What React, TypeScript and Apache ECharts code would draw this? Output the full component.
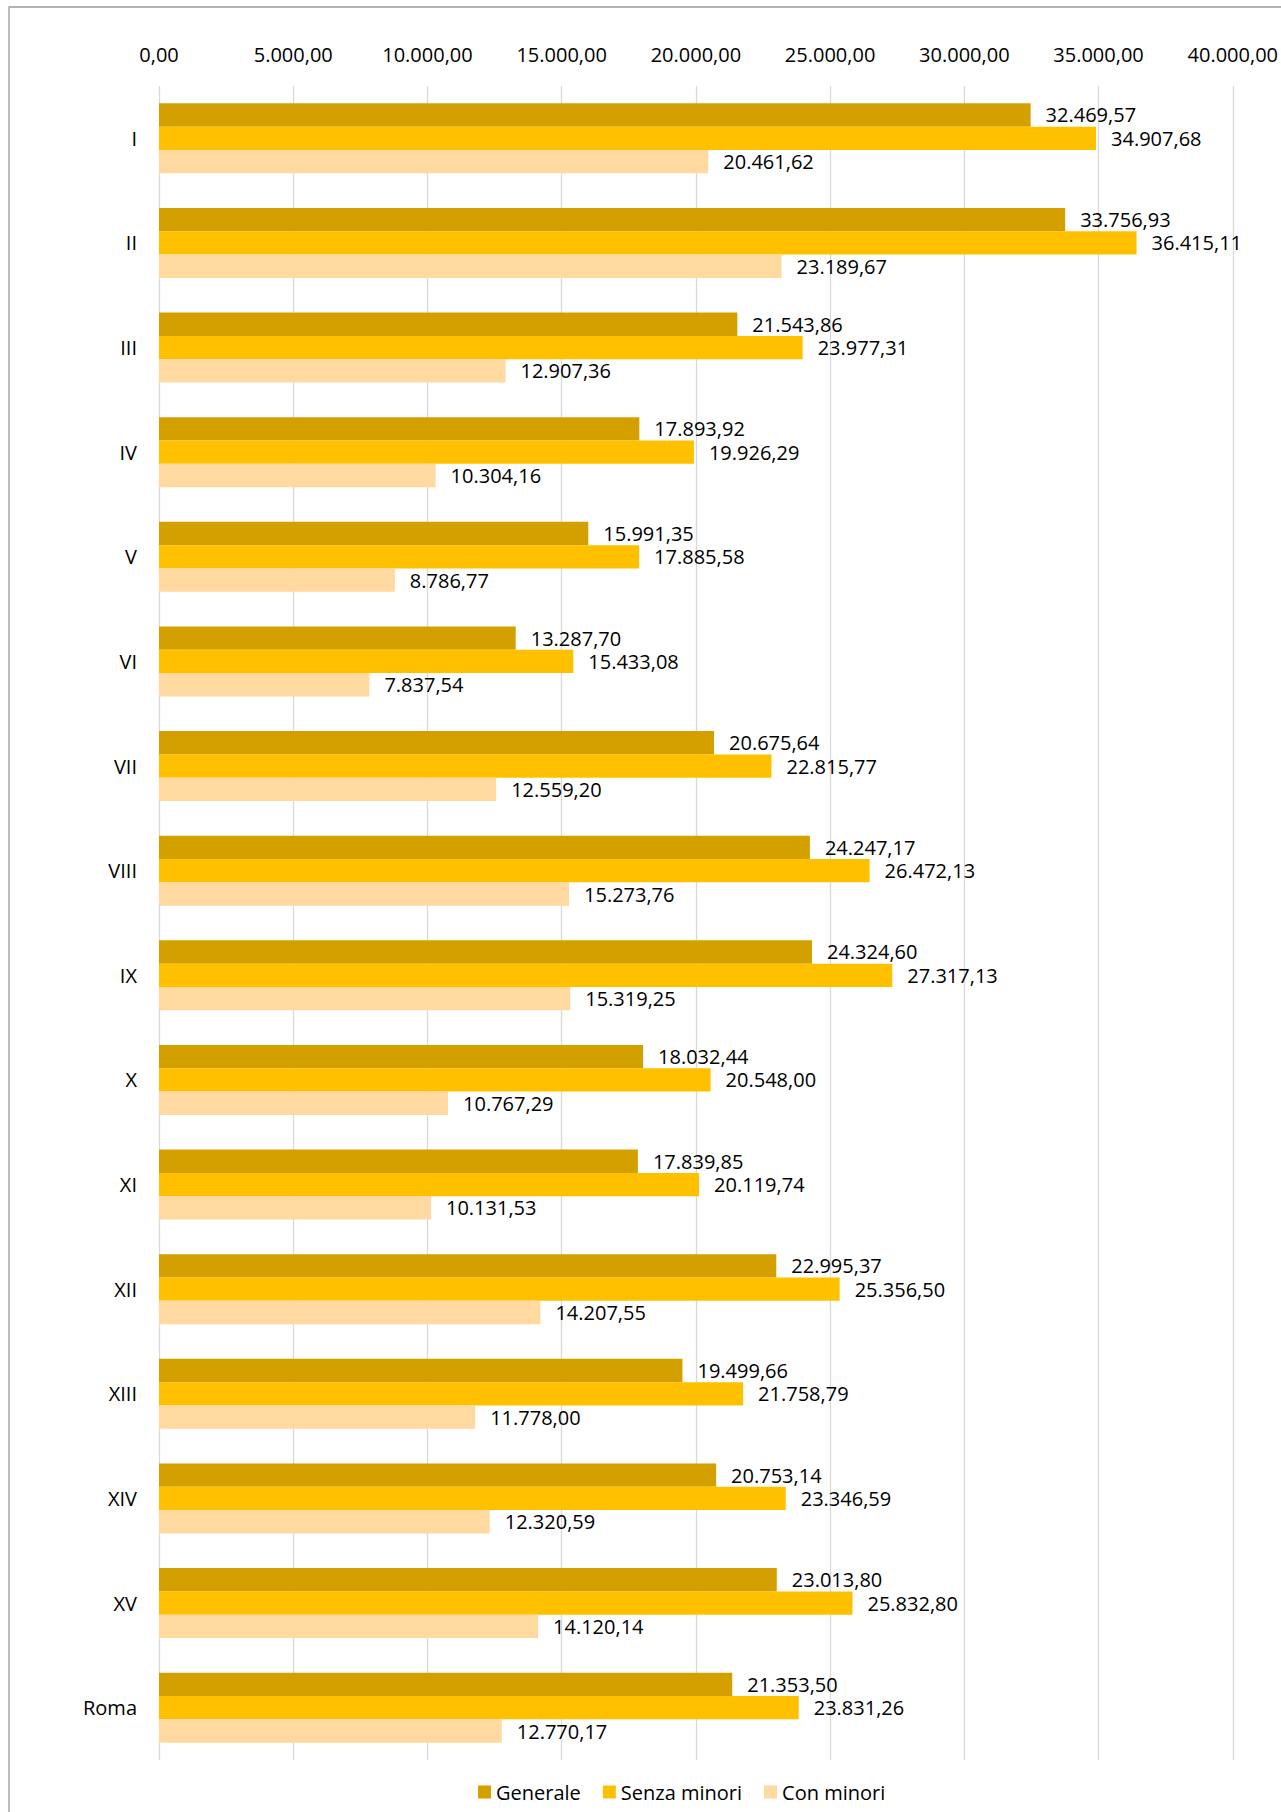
import React, { useEffect, useRef } from "react";
import * as echarts from "echarts";

const categories = ["I", "II", "III", "IV", "V", "VI", "VII", "VIII", "IX", "X", "XI", "XII", "XIII", "XIV", "XV", "Roma"];
const generale = [32469.57, 33756.93, 21543.86, 17893.92, 15991.35, 13287.7, 20675.64, 24247.17, 24324.6, 18032.44, 17839.85, 22995.37, 19499.66, 20753.14, 23013.8, 21353.5];
const senzaMinori = [34907.68, 36415.11, 23977.31, 19926.29, 17885.58, 15433.08, 22815.77, 26472.13, 27317.13, 20548.0, 20119.74, 25356.5, 21758.79, 23346.59, 25832.8, 23831.26];
const conMinori = [20461.62, 23189.67, 12907.36, 10304.16, 8786.77, 7837.54, 12559.2, 15273.76, 15319.25, 10767.29, 10131.53, 14207.55, 11778.0, 12320.59, 14120.14, 12770.17];
const seriesNames = ["Generale", "Senza minori", "Con minori"];
const colors = ["#D4A000", "#FFC000", "#FFD9A0"];

function fmt(v: number): string {
  const fixed = Math.abs(v).toFixed(2);
  const [intPart, dec] = fixed.split(".");
  const withDots = intPart.replace(/\B(?=(\d{3})+(?!\d))/g, ".");
  return (v < 0 ? "-" : "") + withDots + "," + dec;
}

const FONT = "Open Sans";

export default function App() {
  const ref = useRef<HTMLDivElement>(null);
  useEffect(() => {
    if (!ref.current) return;
    const chart = echarts.init(ref.current, null, { renderer: "svg" });
    const datasets = [generale, senzaMinori, conMinori];
    chart.setOption({
      animation: false,
      backgroundColor: "#ffffff",
      textStyle: { fontFamily: FONT },
      graphic: [
        {
          type: "rect",
          shape: { x: 9, y: 7, width: 1400, height: 1900 },
          style: { fill: "none", stroke: "#9a9a9a", lineWidth: 1.3 },
          silent: true,
        },
      ],
      grid: { left: 159, top: 86, width: 1074, height: 1674 },
      legend: {
        left: 478,
        top: 1782,
        padding: 0,
        itemWidth: 13,
        itemHeight: 13,
        itemGap: 22,
        icon: "rect",
        textStyle: { fontFamily: FONT, fontSize: 20, color: "#000" },
        data: seriesNames,
      },
      xAxis: {
        type: "value",
        position: "top",
        min: 0,
        max: 40000,
        interval: 5000,
        axisLine: { show: false },
        axisTick: { show: false },
        splitLine: { show: true, lineStyle: { color: "#D9D9D9", width: 1.3 } },
        axisLabel: {
          fontFamily: FONT,
          fontSize: 20,
          color: "#000",
          margin: 22,
          formatter: (v: number) => fmt(v),
        },
      },
      yAxis: {
        type: "category",
        data: categories,
        inverse: true,
        axisLine: { show: false },
        axisTick: { show: false },
        axisLabel: { fontFamily: FONT, fontSize: 20, color: "#000", margin: 22 },
      },
      series: datasets.map((d, i) => ({
        name: seriesNames[i],
        type: "bar",
        data: d,
        barGap: "0%",
        barCategoryGap: "33%",
        itemStyle: { color: colors[i] },
        label: {
          show: true,
          position: "right",
          distance: 15,
          fontFamily: FONT,
          fontSize: 20,
          color: "#000",
          formatter: (p: any) => fmt(p.value),
        },
      })),
    });
    return () => chart.dispose();
  }, []);
  return (
    <div
      ref={ref}
      style={{ position: "absolute", left: 0, top: 0, width: 1281, height: 1812 }}
    />
  );
}
